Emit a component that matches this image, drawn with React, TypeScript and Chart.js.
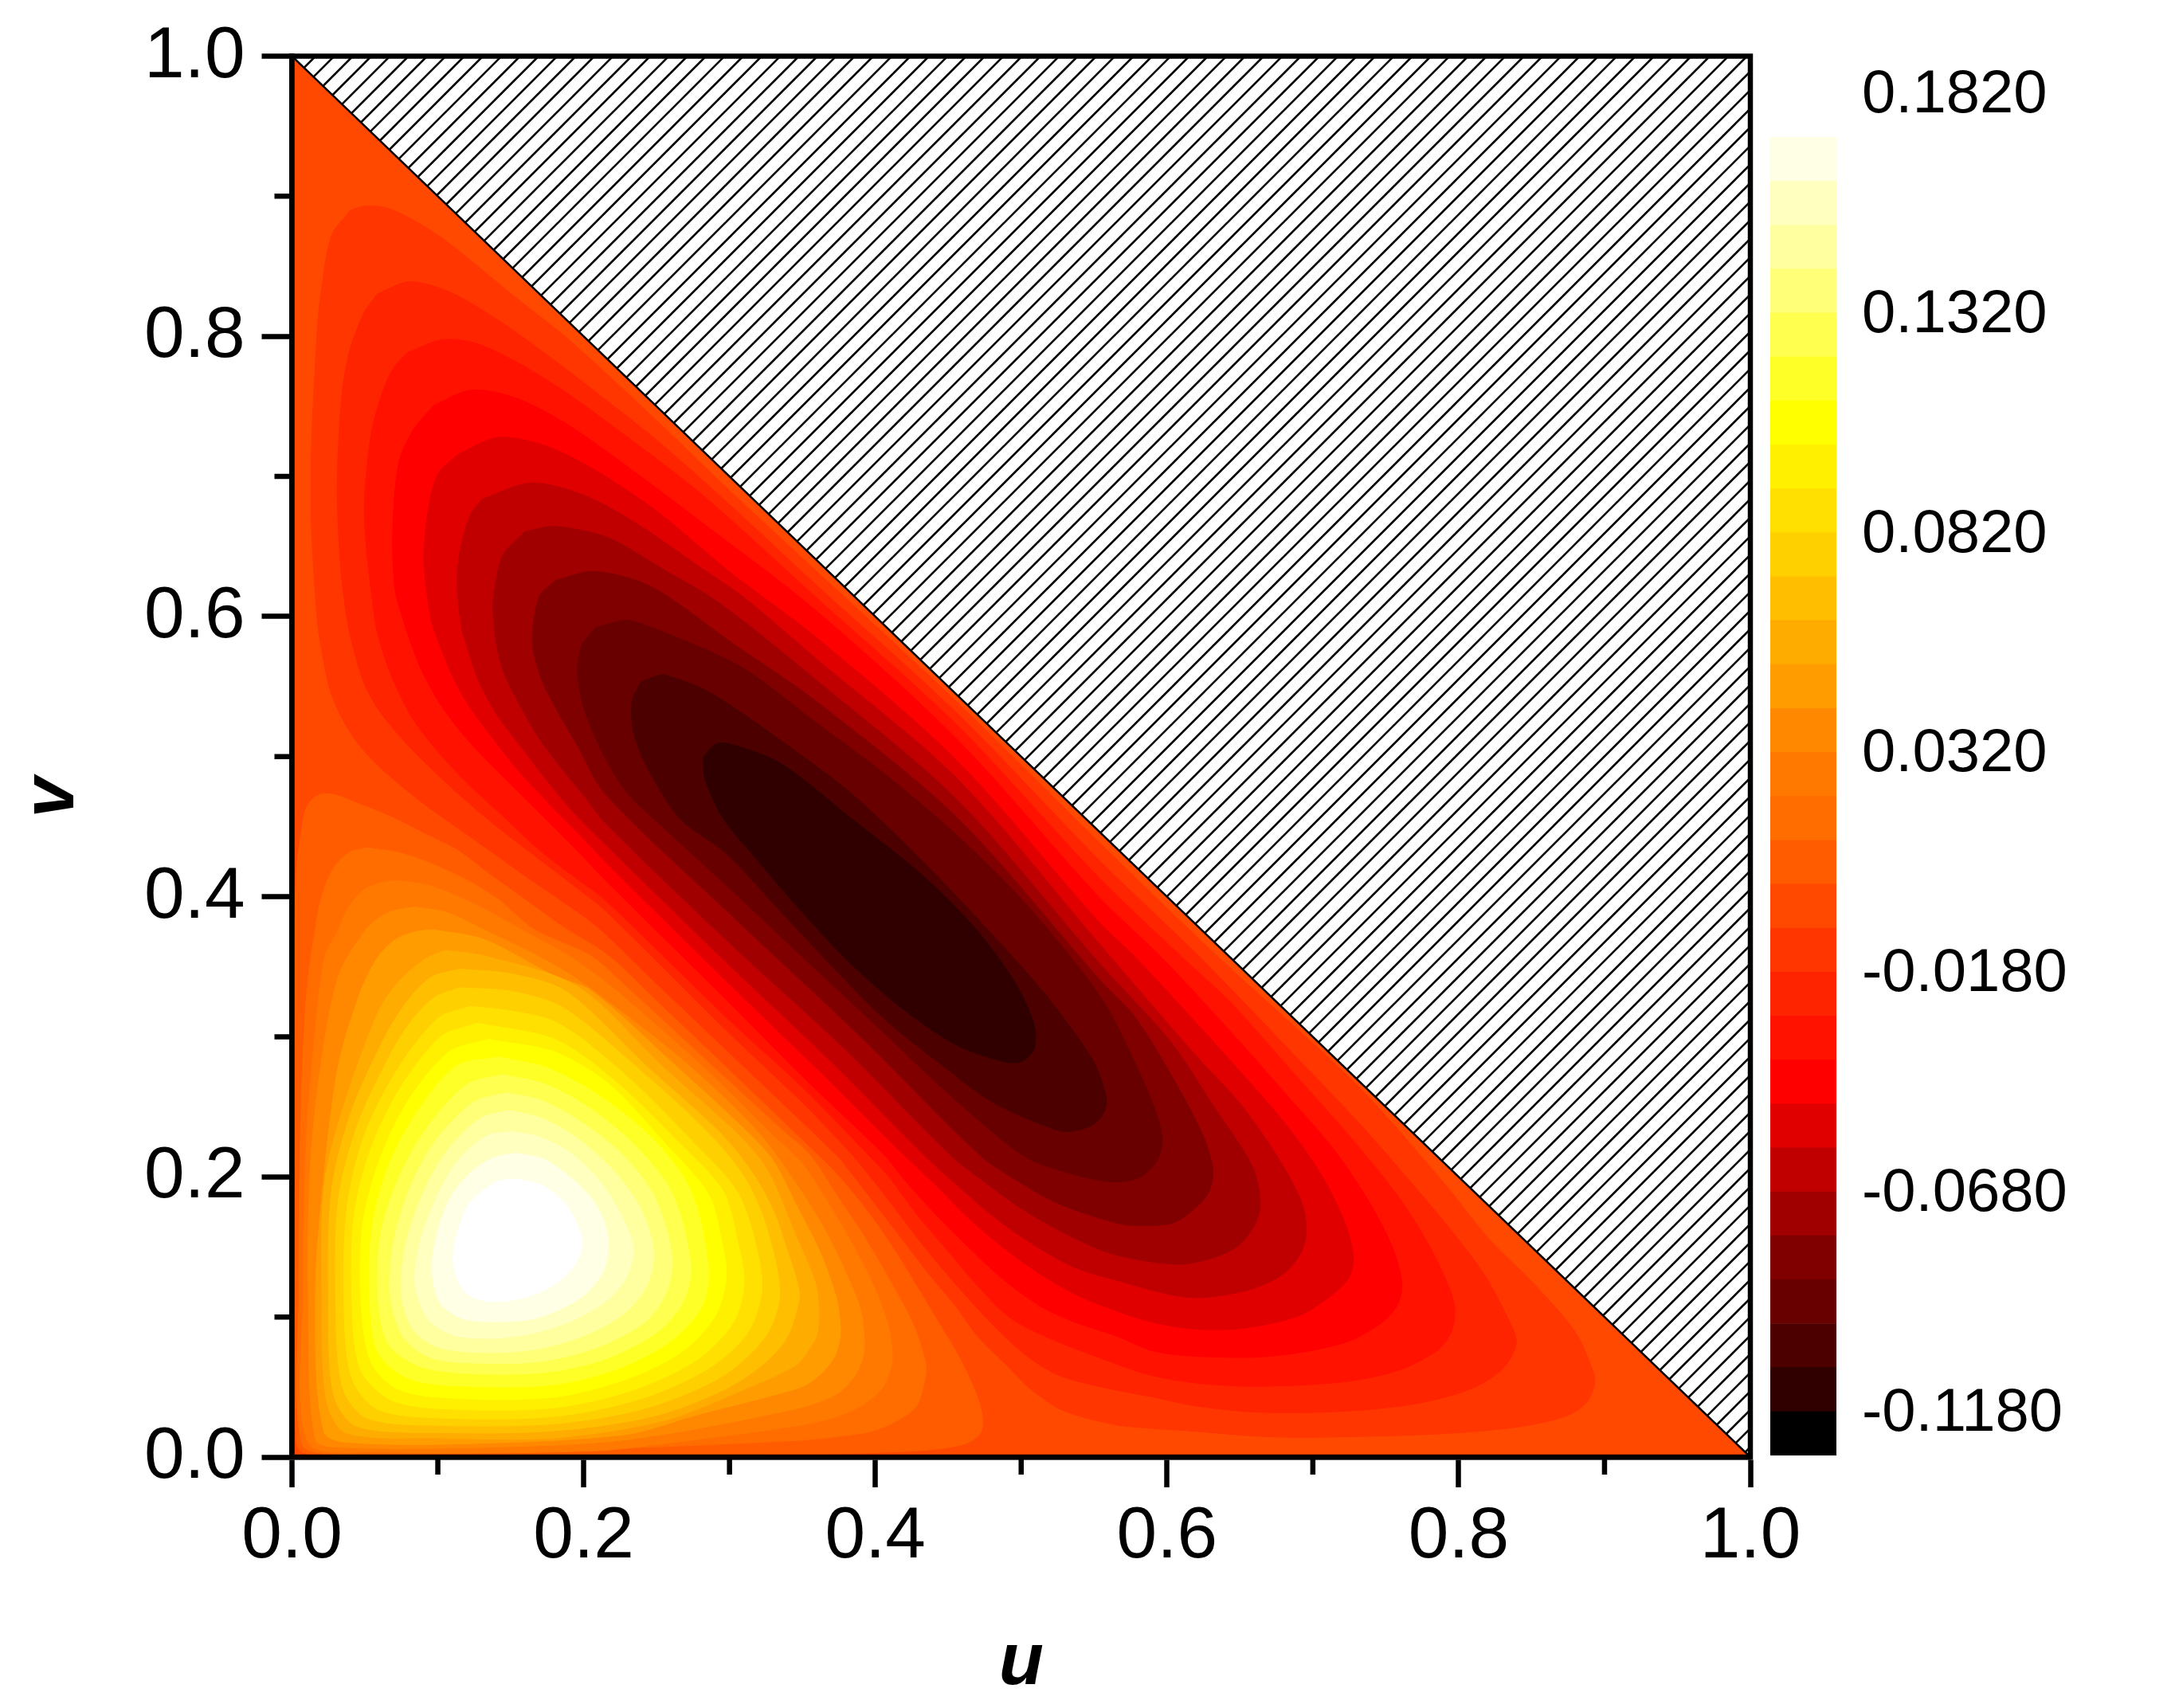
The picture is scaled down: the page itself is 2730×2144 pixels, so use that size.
import React, { useEffect, useRef } from "react";
import { Chart, registerables } from "chart.js";

Chart.register(...registerables);

type Pt = number[];

const bandColors = [
  "#000000", "#300000", "#4C0000", "#680000", "#800000", "#A00000", "#C00000", "#E00000", "#FF0000", "#FF1200",
  "#FF2400", "#FF3600", "#FF4800", "#FF5C00", "#FF6C00", "#FF7800", "#FF8800", "#FF9C00", "#FFAC00", "#FFBF00",
  "#FFD000", "#FFE000", "#FFF000", "#FFFF00", "#FFFF28", "#FFFF50", "#FFFF78", "#FFFFA0", "#FFFFC0", "#FFFFE6",
];
const peakColor = "#FFFFFF";
const bandEdges = [
  -0.128, -0.118, -0.108, -0.098, -0.088, -0.078, -0.068, -0.058, -0.048, -0.038, -0.028, -0.018, -0.008, 0.002, 0.012,
  0.022, 0.032, 0.042, 0.052, 0.062, 0.072, 0.082, 0.092, 0.102, 0.112, 0.122, 0.132, 0.142, 0.152, 0.162, 0.172,
];
const colorbarTicks = [-0.118, -0.068, -0.018, 0.032, 0.082, 0.132, 0.182];
const minorTicks = [0.1, 0.3, 0.5, 0.7, 0.9];

const domain: Pt[] = [[0, 0], [1, 0], [0, 1]];
const excluded: Pt[] = [[0, 1], [1, 1], [1, 0]];
const diagonal: Pt[] = [[0, 1], [1, 0]];

const n11: Pt[] = [[.0399,.8898],[.051,.8932],[.0691,.8903],[.0998,.8724],[.1249,.8521],[.1555,.826],[.189,.7984],[.25,.74],[.3,.69],[.3588,.6332],[.4563,.5387],[.5539,.4384],[.6343,.3577],[.7295,.2663],[.7898,.1958],[.8199,.1567],[.8525,.1227],[.8802,.0888],[.8926,.06],[.8932,.0522],[.8879,.0392],[.8753,.03],[.8451,.0222],[.7949,.017],[.7196,.0144],[.6695,.0145],[.6144,.0188],[.59,.0205],[.5646,.0231],[.5281,.0336],[.5063,.0487],[.4917,.0639],[.4699,.0866],[.4553,.1075],[.4371,.1302],[.4189,.1549],[.4007,.1795],[.3825,.2042],[.3734,.2155],[.3,.2885],[.25,.338],[.2095,.3785],[.1895,.3937],[.1603,.4146],[.1348,.4335],[.113,.4496],[.0911,.4657],[.0729,.4809],[.0584,.4942],[.0438,.5112],[.0329,.5302],[.0256,.5492],[.0201,.5776],[.0174,.5965],[.0134,.6635],[.0134,.7215],[.0176,.8085],[.0203,.8346],[.0273,.8724]];
const n10: Pt[] = [[.0585,.8303],[.0803,.839],[.1081,.8317],[.1416,.8114],[.1806,.7824],[.2168,.7534],[.25,.726],[.3,.68],[.3588,.6232],[.4563,.5307],[.5539,.4257],[.6217,.3577],[.6895,.2846],[.7347,.235],[.7697,.1932],[.7948,.1619],[.8174,.1305],[.8349,.0966],[.8395,.0809],[.8299,.0627],[.8074,.0483],[.7698,.0379],[.7196,.0326],[.6632,.032],[.6193,.0365],[.59,.0429],[.5646,.0479],[.5281,.0574],[.5045,.0716],[.4808,.0942],[.459,.1188],[.4371,.1454],[.4189,.17],[.4007,.1947],[.3843,.2155],[.35,.253],[.3,.3024],[.2149,.39],[.1968,.4051],[.1694,.4268],[.1421,.4487],[.1203,.4676],[.0984,.4885],[.0784,.5093],[.0602,.5321],[.0492,.553],[.042,.5776],[.038,.5965],[.0334,.6345],[.031,.6925],[.0343,.7592],[.0399,.7911],[.0496,.8172]];
const n9: Pt[] = [[.0789,.7882],[.1026,.7975],[.1249,.7955],[.1527,.7824],[.1806,.765],[.2085,.7447],[.28,.688],[.3588,.6142],[.4563,.5222],[.5539,.413],[.6095,.3577],[.6443,.3238],[.6845,.2768],[.7246,.2298],[.7572,.188],[.7798,.151],[.7948,.1175],[.7974,.1044],[.7948,.0888],[.7849,.0757],[.7573,.0614],[.7196,.0535],[.6582,.0505],[.6193,.053],[.59,.0581],[.5646,.0667],[.519,.085],[.4917,.0999],[.4699,.1226],[.448,.1492],[.428,.1738],[.4098,.1994],[.3954,.2155],[.35,.264],[.3,.3117],[.2149,.3975],[.1968,.4117],[.1694,.4335],[.1421,.46],[.1203,.4809],[.0984,.5055],[.082,.5283],[.0693,.5549],[.062,.5757],[.057,.5965],[.0496,.6722],[.0538,.7273],[.0608,.7563],[.0691,.7766]];
const n8: Pt[] = [[.097,.7505],[.1221,.7615],[.1527,.7563],[.1862,.7389],[.2224,.7128],[.28,.668],[.3588,.6047],[.4563,.5121],[.5539,.3991],[.5953,.3577],[.6443,.3029],[.682,.2585],[.7146,.2193],[.7397,.1802],[.7549,.1488],[.7612,.1227],[.7571,.107],[.7447,.094],[.7196,.0809],[.6695,.0718],[.6193,.072],[.59,.0759],[.5646,.0867],[.5373,.0961],[.5136,.1075],[.4881,.1264],[.4645,.1492],[.4426,.1719],[.4225,.1947],[.4062,.2155],[.35,.2717],[.3,.3242],[.2149,.4117],[.1968,.4316],[.1786,.4506],[.1549,.4752],[.133,.4979],[.1148,.5188],[.1003,.5397],[.0893,.5605],[.082,.5795],[.0766,.5965],[.0705,.62],[.0691,.6635],[.0733,.7099],[.0831,.7331]];
const n7: Pt[] = [[.1137,.7157],[.1416,.7279],[.175,.7215],[.2085,.7041],[.2503,.6751],[.3,.632],[.3588,.5857],[.4563,.4968],[.5539,.3813],[.5775,.3577],[.6193,.3107],[.6443,.282],[.6794,.2402],[.7045,.2037],[.7221,.1671],[.7278,.1423],[.7246,.1279],[.7121,.1149],[.6895,.1005],[.6519,.0919],[.6193,.0914],[.59,.0962],[.5646,.1046],[.5391,.1151],[.5136,.1302],[.4881,.1492],[.4645,.17],[.4408,.1947],[.4198,.2155],[.37,.267],[.3,.3376],[.2149,.425],[.1968,.4449],[.1786,.4639],[.1549,.4904],[.1348,.517],[.1203,.5378],[.1094,.5587],[.1021,.5776],[.0957,.5965],[.0906,.6374],[.0928,.6722],[.0998,.7012]];
const n6: Pt[] = [[.1304,.6838],[.1639,.6954],[.2001,.6867],[.2363,.6664],[.2809,.6345],[.31,.6136],[.3588,.5705],[.4563,.4841],[.5539,.366],[.6193,.2872],[.6493,.2533],[.6744,.2167],[.692,.1828],[.6956,.1622],[.692,.1462],[.6795,.1305],[.6544,.1188],[.6144,.114],[.5646,.1264],[.5355,.1359],[.5063,.153],[.4808,.1719],[.4553,.1947],[.4335,.2155],[.37,.282],[.3,.351],[.2149,.4373],[.1932,.46],[.1749,.4828],[.1567,.5074],[.1403,.5302],[.1276,.5549],[.1203,.5776],[.1165,.591],[.1132,.6229],[.1151,.6461],[.1221,.6722]];
const n5: Pt[] = [[.1597,.6606],[.1806,.6643],[.2168,.6562],[.2531,.6345],[.2925,.61],[.3588,.5552],[.4563,.4689],[.5539,.3521],[.6022,.2968],[.6315,.2511],[.6583,.2079],[.6639,.1825],[.6607,.1671],[.6494,.1514],[.6318,.1423],[.6071,.1376],[.5646,.1444],[.5355,.1568],[.5027,.1757],[.477,.1947],[.4516,.2155],[.38,.2905],[.3,.367],[.2149,.4525],[.2022,.4695],[.1858,.4904],[.1694,.5131],[.1567,.5359],[.1458,.5587],[.1403,.5795],[.1385,.5965],[.138,.6113],[.1444,.6432]];
const n4: Pt[] = [[.1806,.6258],[.2057,.6322],[.2363,.6258],[.2588,.6136],[.3004,.5822],[.3588,.54],[.4563,.4562],[.5539,.3407],[.5778,.3145],[.6022,.2739],[.6242,.2308],[.6315,.2054],[.6293,.1906],[.6217,.18],[.6047,.1673],[.5802,.1653],[.5646,.1672],[.5245,.1814],[.4953,.1985],[.4717,.2155],[.39,.3],[.3,.388],[.2149,.4733],[.1949,.5093],[.1822,.5321],[.1712,.5549],[.1649,.5814],[.1695,.6142]];
const n3: Pt[] = [[.2085,.5924],[.228,.5973],[.2368,.5958],[.2685,.5831],[.31,.5628],[.3588,.5248],[.4076,.4867],[.4563,.4435],[.505,.3927],[.5539,.3293],[.578,.2815],[.5924,.246],[.5968,.2257],[.5925,.2105],[.5802,.199],[.5607,.1965],[.5281,.2041],[.5009,.2155],[.45,.2595],[.4,.3085],[.35,.357],[.3,.406],[.2539,.45],[.2295,.4745],[.2124,.5039],[.2002,.5344],[.1959,.5598],[.1987,.5793]];
const n2: Pt[] = [[.2393,.5534],[.2515,.558],[.2563,.5582],[.2856,.5463],[.3344,.5121],[.3832,.474],[.432,.4257],[.4807,.3724],[.5173,.3293],[.549,.2836],[.558,.2582],[.5575,.248],[.5501,.2379],[.5367,.2328],[.5246,.2333],[.4807,.2531],[.4441,.281],[.4076,.3115],[.371,.3496],[.3344,.3902],[.2978,.4308],[.2661,.4557],[.2441,.4912],[.2344,.5166],[.2332,.5395]];
const n1: Pt[] = [[.282,.4994],[.2905,.509],[.3003,.509],[.3344,.4956],[.3832,.4562],[.432,.4156],[.4685,.3775],[.4954,.3394],[.5088,.309],[.5088,.2912],[.5002,.2823],[.488,.2823],[.4563,.2937],[.4198,.3191],[.3832,.3521],[.3466,.3927],[.3173,.4283],[.2954,.4562],[.2832,.4841]];

const p13: Pt[] = [[.0201,.4733],[.0292,.4729],[.0474,.4657],[.0693,.4563],[.0911,.4449],[.113,.4335],[.1348,.4165],[.1603,.3975],[.1858,.3785],[.2173,.3577],[.25,.3255],[.3,.276],[.3606,.2155],[.3734,.2022],[.3916,.1795],[.4098,.153],[.428,.1226],[.4444,.0942],[.4553,.0753],[.4662,.0525],[.4726,.0336],[.4726,.0184],[.4626,.0099],[.4371,.0051],[.4007,.0032],[.346,.0017],[.2,.0012],[.05,.0012],[.008,.003],[.003,.01],[.0015,.1],[.0019,.3748],[.0028,.4165],[.0056,.4411],[.0092,.4619],[.0147,.4705]];
const p14: Pt[] = [[.0511,.435],[.0729,.4316],[.0948,.424],[.1203,.4117],[.1421,.3975],[.1658,.3767],[.205,.3577],[.23,.335],[.29,.2775],[.335,.2345],[.3552,.2155],[.3734,.1871],[.3916,.1587],[.4098,.1264],[.4262,.0942],[.4344,.0677],[.4344,.0582],[.4298,.0392],[.4225,.0307],[.4007,.0193],[.3734,.0146],[.346,.0118],[.205,.0055],[.0588,.0023],[.0076,.0074],[.0046,.1165],[.0063,.2533],[.01,.3313],[.0156,.3748],[.0201,.3994],[.0283,.4202],[.0392,.4316]];
const p15: Pt[] = [[.0729,.4117],[.0948,.4079],[.1239,.3956],[.1476,.3823],[.1603,.3748],[.19,.3577],[.22,.335],[.285,.2755],[.33,.2295],[.3497,.2098],[.3643,.1871],[.3807,.1587],[.3971,.1264],[.4089,.0942],[.4117,.0715],[.4098,.0601],[.4044,.0487],[.3916,.0373],[.3734,.0288],[.346,.0222],[.27,.0115],[.205,.0043],[.0588,.0036],[.0112,.0099],[.0076,.1165],[.01,.2298],[.0149,.2932],[.0222,.3567],[.031,.3748],[.0383,.3918],[.0492,.4051],[.0602,.4098]];
const p16: Pt[] = [[.0839,.3927],[.1057,.389],[.1239,.3804],[.1348,.3748],[.1685,.3577],[.2,.338],[.27,.2815],[.32,.2315],[.346,.1947],[.3643,.1643],[.3788,.134],[.3898,.1056],[.3925,.0847],[.3916,.0715],[.3861,.0582],[.3734,.0449],[.346,.0345],[.2295,.0124],[.132,.0069],[.0344,.0069],[.0161,.0124],[.0112,.1165],[.0124,.2044],[.0198,.2805],[.032,.344],[.0493,.3748],[.0584,.3842],[.0693,.39]];
const p17: Pt[] = [[.0966,.3765],[.132,.3694],[.1807,.343],[.2051,.333],[.2661,.2765],[.3124,.232],[.33,.2115],[.346,.1795],[.3625,.1454],[.3734,.1132],[.376,.0942],[.3752,.081],[.3698,.0677],[.357,.0544],[.346,.0487],[.278,.0302],[.2295,.0162],[.132,.0099],[.0466,.0099],[.0222,.0175],[.0161,.1165],[.0222,.2044],[.032,.2805],[.0466,.3313],[.0588,.3567],[.071,.3694],[.0838,.3748]];
const p18: Pt[] = [[.105,.3618],[.132,.3577],[.1954,.3361],[.2539,.279],[.3,.236],[.32,.214],[.33,.1968],[.346,.1568],[.3588,.1245],[.3612,.1037],[.3597,.0866],[.3534,.0753],[.346,.0658],[.3124,.0493],[.2563,.0264],[.1807,.0137],[.1002,.0137],[.0368,.0175],[.0234,.0416],[.0205,.1165],[.0222,.1952],[.0356,.2511],[.0588,.317],[.072,.338],[.0905,.355]];
const p19: Pt[] = [[.115,.3483],[.15,.345],[.188,.3323],[.2442,.278],[.293,.232],[.315,.204],[.33,.176],[.3393,.1485],[.346,.1264],[.3478,.1127],[.3368,.081],[.305,.053],[.2515,.0302],[.1807,.0188],[.1002,.0175],[.0441,.0221],[.0283,.0454],[.0251,.1165],[.0271,.1902],[.0405,.246],[.0637,.3],[.0795,.326],[.0954,.3425]];
const p20: Pt[] = [[.115,.335],[.15,.3325],[.1856,.321],[.2344,.28],[.2832,.2336],[.31,.2],[.325,.165],[.3344,.1165],[.3246,.0861],[.2954,.058],[.244,.0353],[.1807,.0239],[.1027,.0226],[.0515,.0277],[.0344,.0505],[.03,.1165],[.032,.1851],[.0454,.2384],[.0685,.2895],[.0825,.312],[.0978,.3282]];
const p21: Pt[] = [[.1222,.3217],[.15,.3185],[.1832,.3094],[.2295,.272],[.2734,.2266],[.305,.19],[.318,.152],[.3222,.119],[.3124,.0886],[.2856,.0632],[.2393,.0416],[.1807,.029],[.1076,.0277],[.0588,.034],[.0405,.058],[.0356,.1165],[.038,.18],[.05,.231],[.072,.2763],[.1002,.3133]];
const p22: Pt[] = [[.127,.3097],[.1807,.298],[.222,.268],[.2637,.226],[.2954,.1902],[.306,.152],[.31,.124],[.3027,.0962],[.278,.0696],[.2344,.048],[.1807,.0353],[.1124,.034],[.0685,.0404],[.0466,.0632],[.041,.1165],[.0429,.175],[.0551,.223],[.076,.2665],[.1027,.3006]];
const p23: Pt[] = [[.1344,.2983],[.1807,.289],[.2173,.2663],[.254,.226],[.2856,.1877],[.2945,.155],[.2978,.129],[.2905,.1013],[.2685,.0759],[.2295,.0556],[.1807,.0429],[.1173,.0416],[.0734,.048],[.0539,.0683],[.047,.1165],[.049,.17],[.0612,.2155],[.0807,.2562],[.1076,.2892]];
const p24: Pt[] = [[.1417,.2856],[.1755,.2777],[.21,.2585],[.2466,.228],[.2734,.1904],[.2856,.134],[.2807,.1064],[.2588,.082],[.224,.0632],[.1807,.0518],[.122,.0505],[.081,.0556],[.059,.0746],[.0532,.1165],[.0551,.1647],[.0661,.2079],[.0856,.246],[.1124,.279]];
const p25: Pt[] = [[.144,.273],[.1734,.2663],[.205,.2485],[.237,.2206],[.261,.1875],[.2734,.137],[.2685,.1114],[.2515,.09],[.217,.0708],[.176,.0607],[.127,.0594],[.088,.0645],[.066,.081],[.0588,.1165],[.061,.16],[.0734,.2],[.093,.2357],[.12,.266]];
const p26: Pt[] = [[.1466,.26],[.171,.2546],[.2,.238],[.227,.2155],[.249,.185],[.2607,.142],[.2563,.1165],[.2417,.096],[.21,.0785],[.171,.0683],[.127,.067],[.0954,.0708],[.076,.086],[.0673,.1165],[.0698,.1546],[.082,.1953],[.1,.228],[.125,.2536]];
const p27: Pt[] = [[.149,.2475],[.171,.242],[.195,.228],[.22,.205],[.239,.1775],[.248,.147],[.244,.124],[.2295,.104],[.205,.0886],[.1685,.0772],[.132,.0746],[.1,.0784],[.083,.091],[.075,.1165],[.078,.152],[.0905,.19],[.1076,.2206],[.1295,.242]];
const p28: Pt[] = [[.1515,.2323],[.171,.228],[.193,.2155],[.2124,.195],[.226,.172],[.234,.1495],[.2296,.129],[.217,.1127],[.195,.0987],[.166,.0886],[.137,.0848],[.11,.0873],[.093,.0988],[.0844,.124],[.088,.1545],[.1,.1875],[.115,.213],[.134,.2295]];
const p29: Pt[] = [[.154,.217],[.173,.2125],[.1905,.2],[.205,.185],[.214,.1686],[.217,.152],[.214,.134],[.203,.118],[.188,.1076],[.166,.0988],[.142,.0967],[.117,.0988],[.1015,.11],[.096,.134],[.1,.162],[.11,.1876],[.1246,.205],[.139,.214]];
const p30: Pt[] = [[.154,.1985],[.171,.194],[.186,.1825],[.195,.167],[.199,.153],[.195,.139],[.186,.128],[.173,.119],[.156,.113],[.142,.111],[.13,.112],[.1185,.118],[.112,.132],[.1105,.144],[.114,.162],[.121,.18],[.132,.191],[.142,.197]];

const negativeContours = [n11, n10, n9, n8, n7, n6, n5, n4, n3, n2, n1];
const positiveContours = [p13, p14, p15, p16, p17, p18, p19, p20, p21, p22, p23, p24, p25, p26, p27, p28, p29, p30];

const FONT = "'Liberation Sans', Arial, sans-serif";

const toXY = (pts: Pt[]) => pts.map(([x, y]) => ({ x, y }));
const closed = (pts: Pt[]) => toXY([...pts, pts[0]]);

function hatchPattern(): CanvasPattern {
  const gap = 70 / 3;
  const tile = document.createElement("canvas");
  tile.width = 70;
  tile.height = 70;
  const c = tile.getContext("2d")!;
  c.fillStyle = "#fff";
  c.fillRect(0, 0, 70, 70);
  c.strokeStyle = "#000";
  c.lineWidth = 2.6;
  for (let k = 0; k <= 6; k++) {
    c.beginPath();
    c.moveTo(k * gap + 5, -5);
    c.lineTo(k * gap - 75, 75);
    c.stroke();
  }
  return c.createPattern(tile, "repeat")!;
}

function region(pts: Pt[], color: any, tension = 0.3) {
  return {
    type: "line",
    data: closed(pts),
    backgroundColor: color,
    borderColor: color,
    borderWidth: 1,
    pointRadius: 0,
    tension,
    fill: "shape",
  };
}

const framePlugin = {
  id: "frame",
  afterDatasetsDraw(chart: any) {
    const { ctx, chartArea: a, scales } = chart;
    ctx.save();
    ctx.strokeStyle = "#000";
    ctx.lineWidth = 6.5;
    ctx.strokeRect(a.left, a.top, a.right - a.left, a.bottom - a.top);
    ctx.beginPath();
    minorTicks.forEach((t) => {
      const px = scales.x.getPixelForValue(t);
      ctx.moveTo(px, a.bottom);
      ctx.lineTo(px, a.bottom + 22);
      const py = scales.y.getPixelForValue(t);
      ctx.moveTo(a.left, py);
      ctx.lineTo(a.left - 22, py);
    });
    ctx.stroke();
    ctx.restore();
  },
};

export default function App() {
  const mainRef = useRef<HTMLCanvasElement>(null);
  const barRef = useRef<HTMLCanvasElement>(null);

  useEffect(() => {
    // Painter's order: the last dataset in the array is drawn first.
    const painted = [
      region(domain, bandColors[12], 0),
      region(excluded, hatchPattern(), 0),
      ...negativeContours.map((pts, i) => region(pts, bandColors[11 - i])),
      ...positiveContours.map((pts, i) => region(pts, i === 17 ? peakColor : bandColors[13 + i])),
      { type: "line", data: toXY(diagonal), borderColor: "#000", borderWidth: 2.5, pointRadius: 0, fill: false, tension: 0 },
    ];
    const main = new Chart(mainRef.current!, {
      type: "line",
      data: { datasets: painted.reverse() as any },
      options: {
        responsive: false,
        animation: false,
        events: [],
        layout: { padding: { top: 70.5, right: 533, left: 0, bottom: 0 } },
        plugins: { legend: { display: false }, tooltip: { enabled: false } },
        scales: {
          x: {
            type: "linear",
            min: 0,
            max: 1,
            afterFit: (s: any) => { s.height = 315; s.paddingLeft = 0; s.paddingRight = 0; },
            border: { color: "#000", width: 6.5 },
            grid: { drawOnChartArea: false, tickLength: 38, tickWidth: 6.5, tickColor: "#000" },
            ticks: { stepSize: 0.2, padding: 8, color: "#000", maxRotation: 0, font: { family: FONT, size: 91 }, callback: (v: any) => Number(v).toFixed(1) },
            title: { display: true, text: "u", color: "#000", padding: 0, font: { family: FONT, size: 92, weight: "bold", style: "italic" } },
          },
          y: {
            type: "linear",
            min: 0,
            max: 1,
            afterFit: (s: any) => { s.width = 366.5; s.paddingTop = 0; s.paddingBottom = 0; },
            border: { color: "#000", width: 6.5 },
            grid: { drawOnChartArea: false, tickLength: 38, tickWidth: 6.5, tickColor: "#000" },
            ticks: { stepSize: 0.2, padding: 21, labelOffset: 1, color: "#000", font: { family: FONT, size: 91 }, callback: (v: any) => Number(v).toFixed(1) },
            title: { display: true, text: "v    ", color: "#000", padding: 11, font: { family: FONT, size: 92, weight: "bold", style: "italic" } },
          },
        },
      } as any,
      plugins: [framePlugin],
    });

    const bar = new Chart(barRef.current!, {
      type: "bar",
      data: {
        labels: ["scale"],
        datasets: bandColors.map((color, i) => ({
          data: [[bandEdges[i], bandEdges[i + 1]]],
          backgroundColor: color,
          borderWidth: 0,
          barPercentage: 1,
          categoryPercentage: 1,
          grouped: false,
        })) as any,
      },
      options: {
        responsive: false,
        animation: false,
        events: [],
        layout: { padding: { top: 117, left: 17, right: 0, bottom: 53 } },
        plugins: { legend: { display: false }, tooltip: { enabled: false } },
        scales: {
          x: { display: false },
          y: {
            position: "right",
            type: "linear",
            min: -0.128,
            max: 0.182,
            afterBuildTicks: (s: any) => { s.ticks = colorbarTicks.map((value) => ({ value })); },
            afterFit: (s: any) => { s.width = 425; s.paddingTop = 0; s.paddingBottom = 0; },
            border: { display: false },
            grid: { display: false },
            ticks: { autoSkip: false, padding: 24, labelOffset: 3, color: "#000", font: { family: FONT, size: 76 }, callback: (v: any) => Number(v).toFixed(4) },
          },
        },
      } as any,
    });
    return () => { main.destroy(); bar.destroy(); };
  }, []);

  return (
    <div style={{ position: "absolute", left: 0, top: 0, width: 2730, height: 2144, background: "#fff", overflow: "hidden" }}>
      <canvas ref={mainRef} width={2730} height={2144} style={{ position: "absolute", left: 0, top: 0 }} />
      <canvas ref={barRef} width={525} height={1880} style={{ position: "absolute", left: 2205, top: 0 }} />
    </div>
  );
}
